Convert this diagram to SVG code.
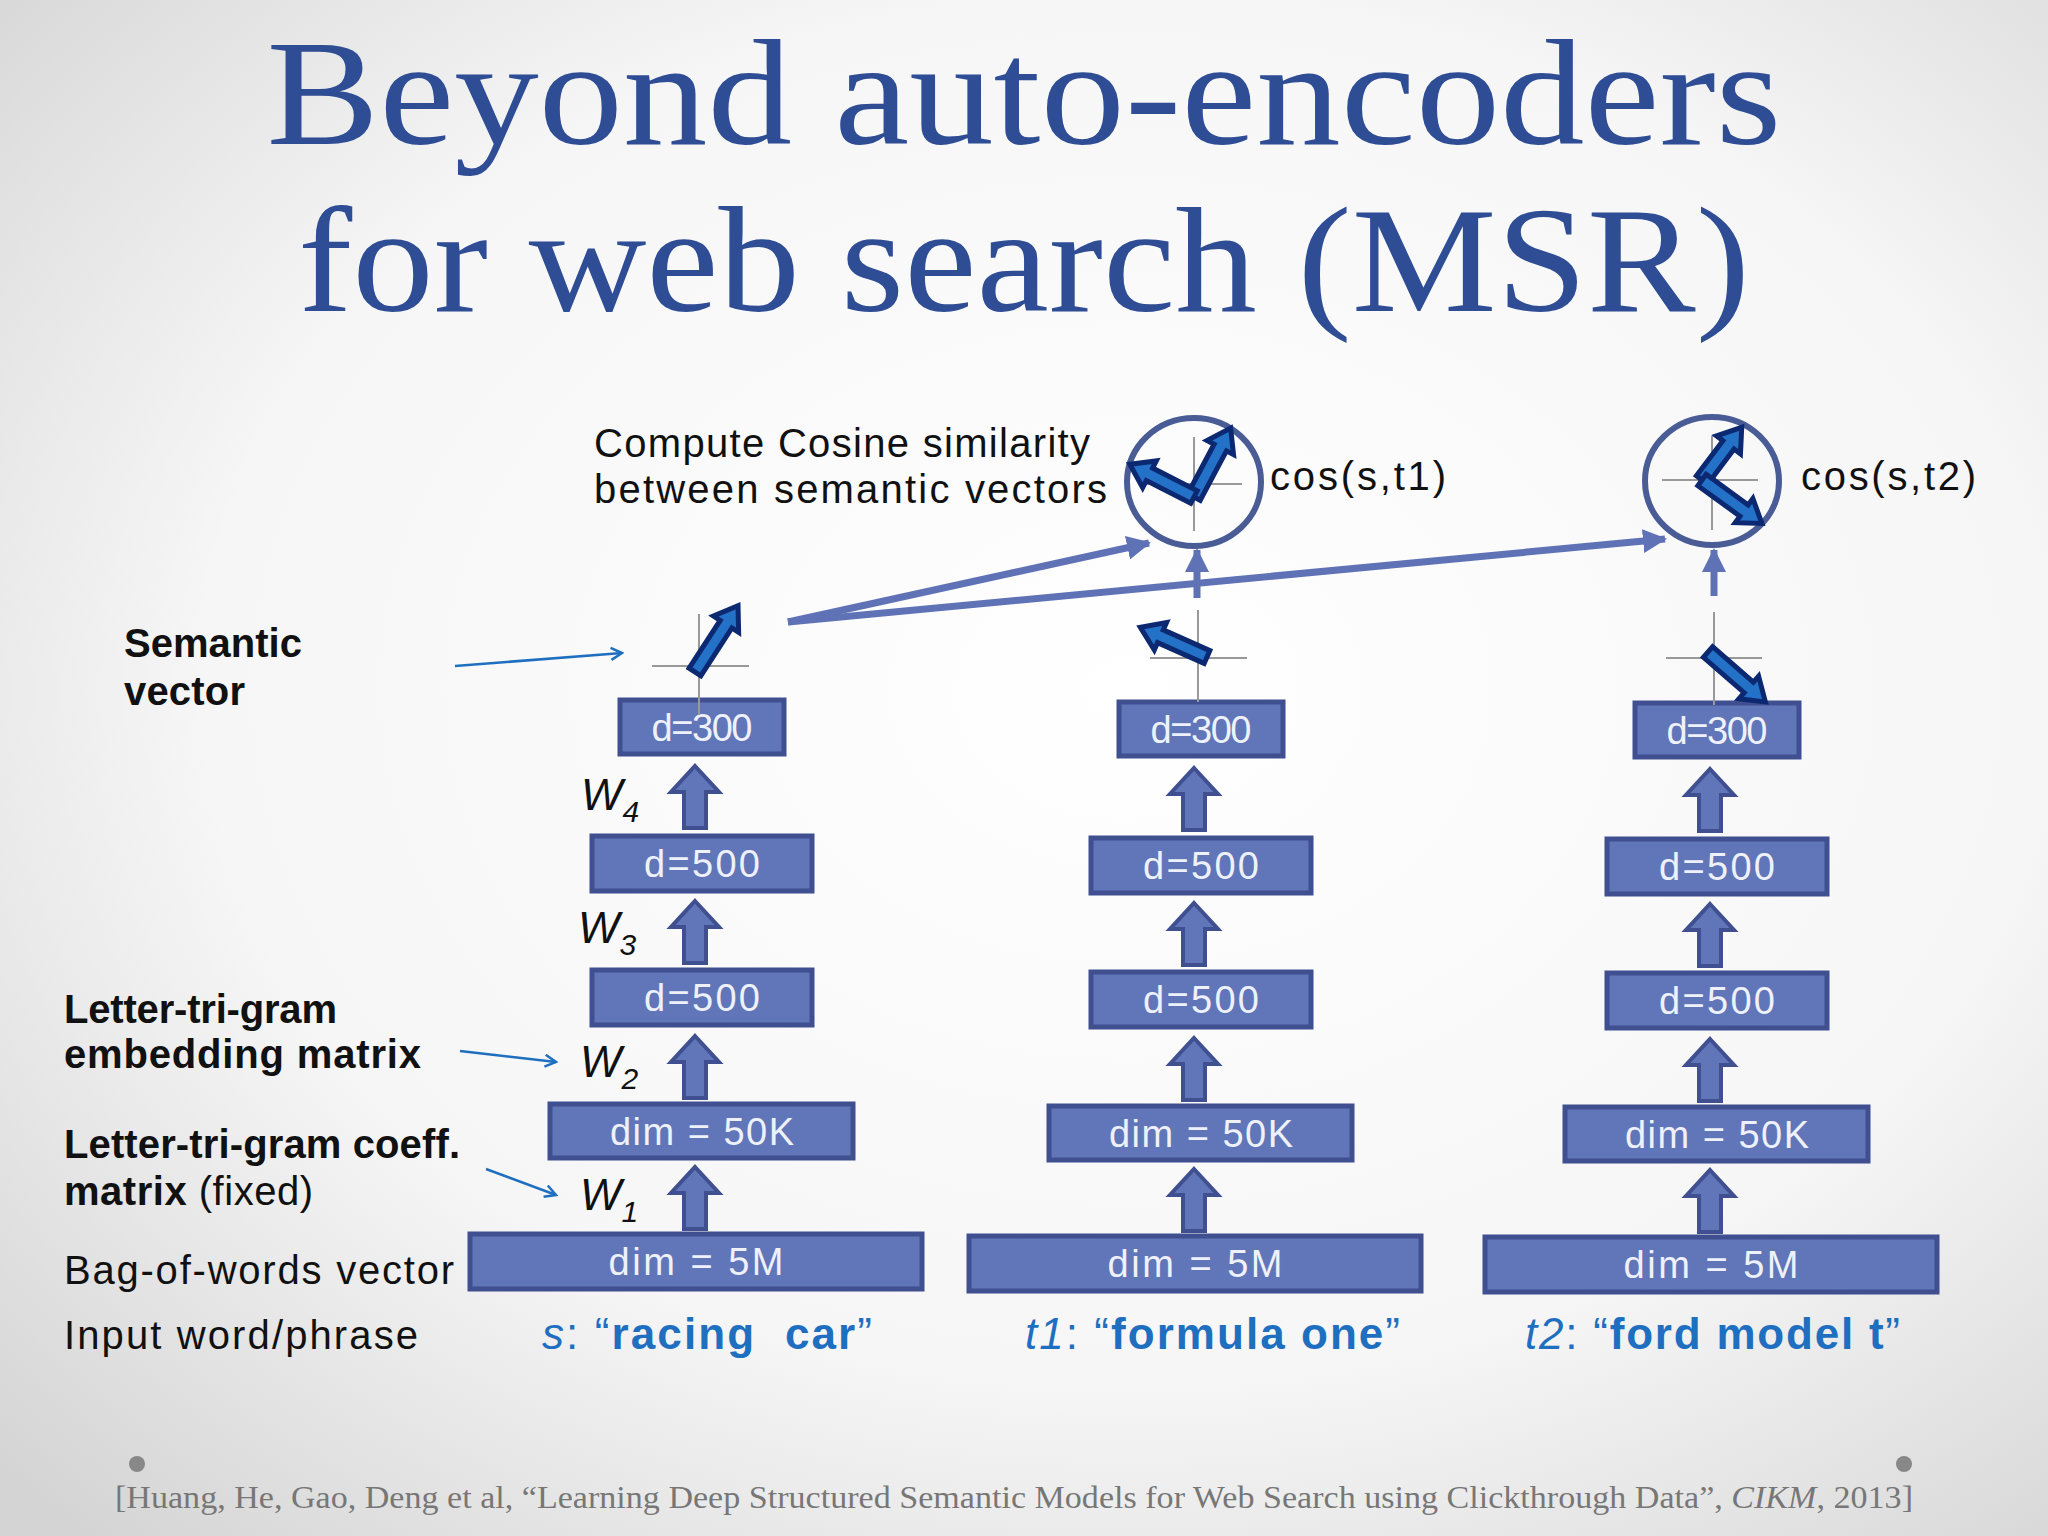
<svg xmlns="http://www.w3.org/2000/svg" width="2048" height="1536" viewBox="0 0 2048 1536">
<defs>
<radialGradient id="bg" cx="0.55" cy="0.45" r="0.75"><stop offset="0" stop-color="#ffffff"/><stop offset="0.6" stop-color="#f6f6f6"/><stop offset="1" stop-color="#d4d4d4"/></radialGradient>
<path id="blk" d="M0,0 L24,26 L11,26 L11,62 L-11,62 L-11,26 L-24,26 Z"/>
<marker id="open" markerWidth="14" markerHeight="14" refX="12" refY="7" orient="auto" markerUnits="userSpaceOnUse"><path d="M1,1 L12,7 L1,13" fill="none" stroke="#1F6FC0" stroke-width="2.5"/></marker>
<marker id="tri" markerWidth="26" markerHeight="24" refX="22" refY="12" orient="auto" markerUnits="userSpaceOnUse"><path d="M0,0 L24,12 L0,24 Z" fill="#5E72B5"/></marker>
</defs>
<style>
.box{fill:#6176B8;stroke:#3F4F8F;stroke-width:5}
.bt{font-family:"Liberation Sans",sans-serif;font-size:38px;fill:#EEF1FA;text-anchor:middle}
.ba{fill:#6176B8;stroke:#3F4F8F;stroke-width:4}
.fat{fill:#2472C8;stroke:#0B2870;stroke-width:5;stroke-linejoin:miter}
.cross{stroke:#999;stroke-width:2}
.w{font-family:"Liberation Sans",sans-serif;font-style:italic;font-size:44px;fill:#111}
.lab{font-family:"Liberation Sans",sans-serif;font-size:40px;fill:#111}
.bold{font-weight:bold}
.thin{stroke:#1F6FC0;stroke-width:2.5;fill:none;marker-end:url(#open)}
.long{stroke:#5E72B5;stroke-width:7;fill:none;marker-end:url(#tri)}
.inp{font-family:"Liberation Sans",sans-serif;font-size:44px;fill:#1F6FC0}
</style>
<rect width="2048" height="1536" fill="url(#bg)"/>
<g id="title" font-family="Liberation Serif, serif" fill="#2E4D94" text-anchor="middle">
<text x="1024" y="144" font-size="150" textLength="1515" lengthAdjust="spacingAndGlyphs">Beyond auto-encoders</text>
<text x="1024" y="311" font-size="150" textLength="1452" lengthAdjust="spacingAndGlyphs">for web search (MSR)</text>
</g>
<g id="connectors">
<line class="long" x1="788" y1="622" x2="1149" y2="543"/>
<line class="long" x1="788" y1="622" x2="1665" y2="539"/>
<line class="long" x1="1197" y1="598" x2="1197" y2="550" stroke-width="6"/>
<line class="long" x1="1714" y1="596" x2="1714" y2="550" stroke-width="6"/>
<line class="thin" x1="455" y1="666" x2="622" y2="653"/>
<line class="thin" x1="460" y1="1051" x2="556" y2="1062"/>
<line class="thin" x1="486" y1="1169" x2="556" y2="1195"/>
</g>
<g id="col1">
<rect class="box" x="620" y="700" width="164" height="54"/><text class="bt" x="702" y="741" textLength="101">d=300</text>
<rect class="box" x="592" y="836" width="220" height="55"/><text class="bt" x="702" y="877" textLength="116">d=500</text>
<rect class="box" x="592" y="970" width="220" height="55"/><text class="bt" x="702" y="1011" textLength="116">d=500</text>
<rect class="box" x="550" y="1104" width="303" height="54"/><text class="bt" x="702" y="1145" textLength="184">dim = 50K</text>
<rect class="box" x="470" y="1234" width="452" height="55"/><text class="bt" x="696" y="1275" textLength="175">dim = 5M</text>
<use href="#blk" class="ba" x="695" y="766"/><use href="#blk" class="ba" x="695" y="901"/><use href="#blk" class="ba" x="695" y="1036"/><use href="#blk" class="ba" x="695" y="1167"/>
</g>
<g id="col2" transform="translate(499,2)">
<rect class="box" x="620" y="700" width="164" height="54"/><text class="bt" x="702" y="741" textLength="101">d=300</text>
<rect class="box" x="592" y="836" width="220" height="55"/><text class="bt" x="702" y="877" textLength="116">d=500</text>
<rect class="box" x="592" y="970" width="220" height="55"/><text class="bt" x="702" y="1011" textLength="116">d=500</text>
<rect class="box" x="550" y="1104" width="303" height="54"/><text class="bt" x="702" y="1145" textLength="184">dim = 50K</text>
<rect class="box" x="470" y="1234" width="452" height="55"/><text class="bt" x="696" y="1275" textLength="175">dim = 5M</text>
<use href="#blk" class="ba" x="695" y="766"/><use href="#blk" class="ba" x="695" y="901"/><use href="#blk" class="ba" x="695" y="1036"/><use href="#blk" class="ba" x="695" y="1167"/>
</g>
<g id="col3" transform="translate(1015,3)">
<rect class="box" x="620" y="700" width="164" height="54"/><text class="bt" x="702" y="741" textLength="101">d=300</text>
<rect class="box" x="592" y="836" width="220" height="55"/><text class="bt" x="702" y="877" textLength="116">d=500</text>
<rect class="box" x="592" y="970" width="220" height="55"/><text class="bt" x="702" y="1011" textLength="116">d=500</text>
<rect class="box" x="550" y="1104" width="303" height="54"/><text class="bt" x="702" y="1145" textLength="184">dim = 50K</text>
<rect class="box" x="470" y="1234" width="452" height="55"/><text class="bt" x="696" y="1275" textLength="175">dim = 5M</text>
<use href="#blk" class="ba" x="695" y="766"/><use href="#blk" class="ba" x="695" y="901"/><use href="#blk" class="ba" x="695" y="1036"/><use href="#blk" class="ba" x="695" y="1167"/>
</g>
<g id="wlabels">
<text class="w" x="581" y="810">W<tspan font-size="30" dy="12">4</tspan></text>
<text class="w" x="578" y="943">W<tspan font-size="30" dy="12">3</tspan></text>
<text class="w" x="580" y="1077">W<tspan font-size="30" dy="12">2</tspan></text>
<text class="w" x="580" y="1210">W<tspan font-size="30" dy="12">1</tspan></text>
</g>
<g id="vec1">
<line class="cross" x1="699" y1="614" x2="699" y2="715"/><line class="cross" x1="652" y1="666" x2="749" y2="666"/>
<path class="fat" transform="translate(695,672) rotate(-57)" d="M0,-7 H57 V-15 L79,0 L57,15 V7 H0 Z"/>
</g>
<g id="vec2">
<line class="cross" x1="1198" y1="610" x2="1198" y2="702"/><line class="cross" x1="1150" y1="658" x2="1247" y2="658"/>
<path class="fat" transform="translate(1207,657) rotate(204)" d="M0,-7 H51 V-15 L73,0 L51,15 V7 H0 Z"/>
</g>
<g id="vec3">
<line class="cross" x1="1714" y1="612" x2="1714" y2="705"/><line class="cross" x1="1666" y1="658" x2="1762" y2="658"/>
<path class="fat" transform="translate(1708,652) rotate(41)" d="M0,-7 H54 V-15 L76,0 L54,15 V7 H0 Z"/>
</g>
<g id="cos1">
<ellipse cx="1194" cy="482" rx="67" ry="64" fill="none" stroke="#4A5C96" stroke-width="6"/>
<line class="cross" x1="1194" y1="437" x2="1194" y2="531"/><line class="cross" x1="1146" y1="484" x2="1242" y2="484"/>
<path class="fat" transform="translate(1194,497) rotate(-62)" d="M0,-7 H56 V-15 L78,0 L56,15 V7 H0 Z"/>
<path class="fat" transform="translate(1194,497) rotate(207)" d="M0,-7 H50 V-15 L72,0 L50,15 V7 H0 Z"/>
<text class="lab" x="1270" y="490" font-size="48" textLength="176">cos(s,t1)</text>
</g>
<g id="cos2">
<ellipse cx="1712" cy="481" rx="67" ry="64" fill="none" stroke="#4A5C96" stroke-width="6"/>
<line class="cross" x1="1712" y1="436" x2="1712" y2="530"/><line class="cross" x1="1662" y1="480" x2="1758" y2="480"/>
<path class="fat" transform="translate(1702,480) rotate(-53)" d="M0,-7 H44 V-15 L66,0 L44,15 V7 H0 Z"/>
<path class="fat" transform="translate(1702,480) rotate(36)" d="M0,-7 H52 V-15 L74,0 L52,15 V7 H0 Z"/>
<text class="lab" x="1801" y="490" font-size="48" textLength="175">cos(s,t2)</text>
</g>
<g id="compute">
<text class="lab" x="594" y="457" textLength="496">Compute Cosine similarity</text>
<text class="lab" x="594" y="503" textLength="513">between semantic vectors</text>
</g>
<g id="left">
<text class="lab bold" x="124" y="657" textLength="178">Semantic</text>
<text class="lab bold" x="124" y="705" textLength="121">vector</text>
<text class="lab bold" x="64" y="1023" textLength="273">Letter-tri-gram</text>
<text class="lab bold" x="64" y="1068" textLength="357">embedding matrix</text>
<text class="lab bold" x="64" y="1158" textLength="396">Letter-tri-gram coeff.</text>
<text class="lab" x="64" y="1205" textLength="249"><tspan font-weight="bold">matrix</tspan> (fixed)</text>
<text class="lab" x="64" y="1284" textLength="390">Bag-of-words vector</text>
<text class="lab" x="64" y="1349" textLength="354">Input word/phrase</text>
</g>
<g id="inputs">
<text class="inp" x="542" y="1349" textLength="330" xml:space="preserve"><tspan font-style="italic">s</tspan>: “<tspan font-weight="bold">racing  car</tspan>”</text>
<text class="inp" x="1025" y="1349" textLength="375"><tspan font-style="italic">t1</tspan>: “<tspan font-weight="bold">formula one</tspan>”</text>
<text class="inp" x="1525" y="1349" textLength="375"><tspan font-style="italic">t2</tspan>: “<tspan font-weight="bold">ford model t</tspan>”</text>
</g>
<g id="citation">
<circle cx="137" cy="1464" r="8" fill="#888"/><circle cx="1904" cy="1464" r="8" fill="#888"/>
<text x="115" y="1508" font-family="Liberation Serif, serif" font-size="31" fill="#777" textLength="1798" lengthAdjust="spacingAndGlyphs">[Huang, He, Gao, Deng et al, “Learning Deep Structured Semantic Models for Web Search using Clickthrough Data”, <tspan font-style="italic">CIKM</tspan>, 2013]</text>
</g>
</svg>
